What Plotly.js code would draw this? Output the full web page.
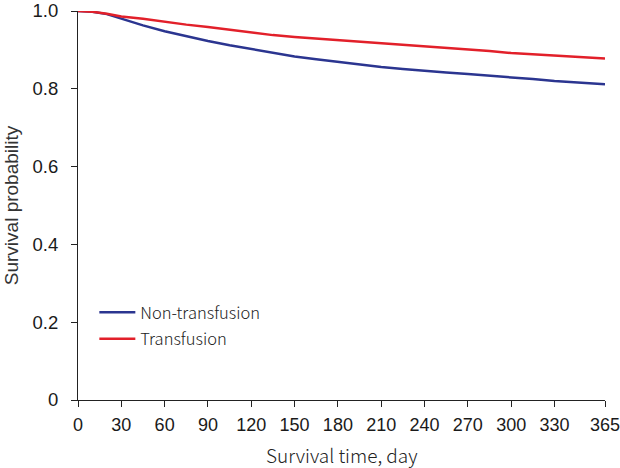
<!DOCTYPE html>
<html>
<head>
<meta charset="utf-8">
<script src="https://cdn.plot.ly/plotly-3.0.1.min.js"></script>
<style>
  body { margin: 0; background: #fff; }
  #plot { width: 620px; height: 468px; }
</style>
</head>
<body>
<div id="plot"></div>
<script>
// days
let days = [0, 10, 20, 30, 45, 60, 75, 90, 105, 120, 135, 150, 165, 180, 195, 210, 225, 240, 255, 270, 285, 300, 315, 330, 345, 365];

// survival probability, non-transfusion (blue)
let nonTransfusion = [1.0, 0.998, 0.992, 0.98, 0.963, 0.948, 0.935, 0.923, 0.912, 0.902, 0.892, 0.883, 0.876, 0.869, 0.862, 0.856, 0.851, 0.846, 0.842, 0.838, 0.834, 0.83, 0.825, 0.82, 0.817, 0.812];

// survival probability, transfusion (red)
let transfusion = [1.0, 0.998, 0.993, 0.986, 0.98, 0.972, 0.965, 0.959, 0.952, 0.944, 0.938, 0.933, 0.929, 0.925, 0.921, 0.918, 0.914, 0.91, 0.906, 0.902, 0.897, 0.892, 0.889, 0.886, 0.882, 0.878];

let xTicks = [0, 30, 60, 90, 120, 150, 180, 210, 240, 270, 300, 330, 365];
let yTicks = [0, 0.2, 0.4, 0.6, 0.8, 1.0];
let yTickText = ['0', '0.2', '0.4', '0.6', '0.8', '1.0'];

let trace01 = {
    x: days,
    y: nonTransfusion,
    name: 'Non-transfusion',
    legendgroup: 'a',
    type: 'scatter',
    mode: 'lines',
    cliponaxis: false,
    line: {color: '#2b3590', width: 2.5}
};

let trace02 = {
    x: days,
    y: transfusion,
    name: 'Transfusion',
    legendgroup: 'b',
    type: 'scatter',
    mode: 'lines',
    cliponaxis: false,
    line: {color: '#e2202a', width: 2.5}
};

let data = [trace01, trace02];

let layout = {
    width: 620,
    height: 468,
    margin: {l: 78, r: 15, t: 11, b: 68},
    paper_bgcolor: '#fff',
    plot_bgcolor: '#fff',
    showlegend: true,
    legend: {
        x: 0.031,
        y: 0.27,
        xanchor: 'left',
        yanchor: 'top',
        bgcolor: 'rgba(0,0,0,0)',
        traceorder: 'grouped',
        tracegroupgap: 2,
        itemwidth: 36,
        font: {family: 'Noto Sans CJK KR', size: 16.5, weight: 300, color: '#222'}
    },
    xaxis: {
        range: [0, 365],
        tickvals: xTicks,
        ticktext: xTicks.map(String),
        ticks: 'outside',
        ticklen: 6,
        tickcolor: '#222',
        ticklabelstandoff: 2,
        ticklabeloverflow: 'allow',
        showline: true,
        linecolor: '#222',
        linewidth: 1,
        showgrid: false,
        zeroline: false,
        tickfont: {family: 'Liberation Sans', size: 18, color: '#1a1a1a'}
    },
    yaxis: {
        range: [0, 1],
        tickvals: yTicks,
        ticktext: yTickText,
        ticks: 'outside',
        ticklen: 6,
        tickcolor: '#222',
        ticklabelstandoff: 9,
        showline: true,
        linecolor: '#222',
        linewidth: 1,
        showgrid: false,
        zeroline: false,
        tickfont: {family: 'Liberation Sans', size: 18.5, color: '#1a1a1a'},
        title: {
            text: 'Survival probability',
            standoff: 8,
            font: {family: 'Liberation Sans', size: 19, color: '#333'}
        }
    },
    // x title placed as an annotation so it sits lower, like the original
    annotations: [{
        text: 'Survival time, day',
        xref: 'paper',
        yref: 'paper',
        x: 0.5,
        y: -0.14,
        xanchor: 'center',
        yanchor: 'middle',
        showarrow: false,
        font: {family: 'Noto Sans CJK KR', size: 19, weight: 300, color: '#222'}
    }]
};

Plotly.newPlot('plot', data, layout, {displayModeBar: false, staticPlot: true});
</script>
</body>
</html>
